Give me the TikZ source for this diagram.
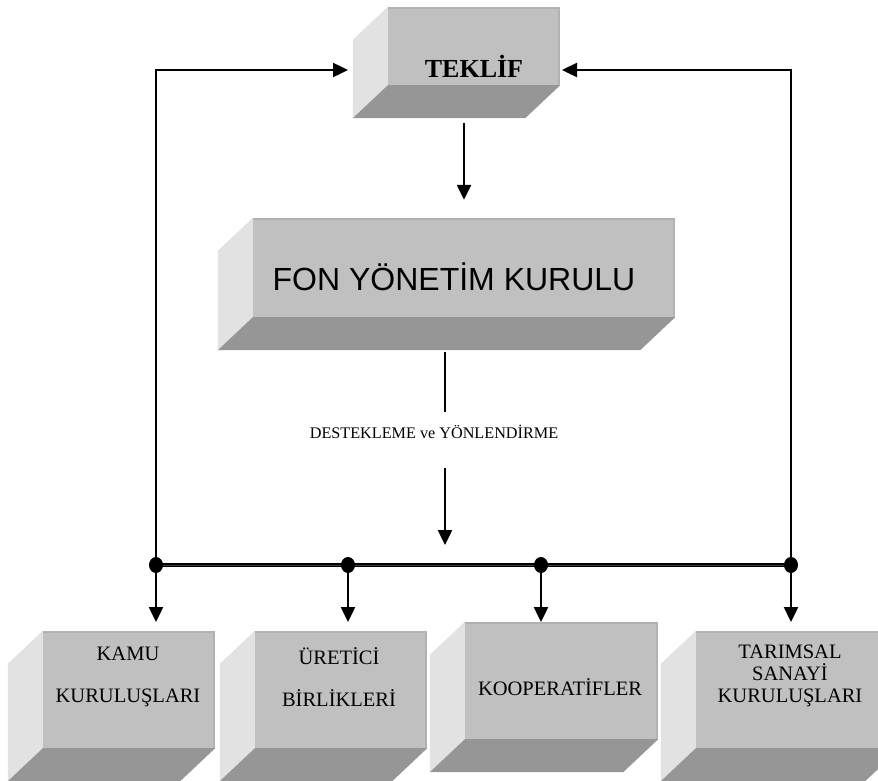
\documentclass[tikz,border=0pt]{standalone}
\usepackage{fontspec}
\setmainfont{Liberation Serif}
\setsansfont{Liberation Sans}
\usetikzlibrary{arrows.meta}
\usetikzlibrary{shapes.geometric}
\definecolor{onyuz}{HTML}{C0C0C0}
\definecolor{yanyuz}{HTML}{E2E2E2}
\definecolor{altyuz}{HTML}{969696}
\definecolor{kenar}{HTML}{B2B2B2}
\tikzset{kutu/.style = {fill=onyuz, inner sep=0pt},
         flow/.style = {line width=2.4pt, -{Triangle[length=15pt, width=14pt]}},
         hat/.style = {line width=1.2pt, double=darkgray, double distance=0.7pt},
         nokta/.style = {ellipse, fill=black, inner sep=0pt,
                         minimum width=14pt, minimum height=16pt},
         etiket/.style = {font=\fontsize{20.5}{22}\selectfont, align=center}}
% kutu: ad, merkez, genislik, yukseklik
\newcommand{\blok}[4]{%
  \node [kutu, minimum width=#3, minimum height=#4] (#1) at (#2) {};
  \draw [kenar, line width=2pt] ([yshift=-1pt]#1.north west) -- ([shift={(-1pt,-1pt)}]#1.north east)
        -- ([xshift=-1pt]#1.south east);
  \fill [yanyuz] (#1.north west) -- (#1.south west) -- ([shift={(-35pt,-33pt)}]#1.south west)
        -- ([shift={(-35pt,-33pt)}]#1.north west) -- cycle;
  \fill [altyuz] (#1.south west) -- (#1.south east) -- ([shift={(-35pt,-33pt)}]#1.south east)
        -- ([shift={(-35pt,-33pt)}]#1.south west) -- cycle;
}

\begin{document}
\begin{tikzpicture}[x=1pt, y=-1pt]
      \useasboundingbox (0, 0) rectangle (878, 780);
      \clip (0, 0) rectangle (878, 780);

      \blok{teklif}{474, 46}{172}{78}
      \blok{fon}{464, 267.5}{422}{99}
      \blok{kamu}{129, 689.5}{172}{117}
      \blok{uretici}{341, 689.5}{172}{117}
      \blok{koop}{561.5, 680.5}{193}{117}
      \blok{tarim}{798, 689.5}{204}{117}

      \node [font=\bfseries\fontsize{26}{28}\selectfont, anchor=base] (teklifyazi) at (474, 77) {TEKLİF};
      \node [font=\sffamily\fontsize{32}{34}\selectfont, anchor=base] (fonyazi) at (454, 290) {FON YÖNETİM KURULU};
      \node [font=\fontsize{16.2}{18}\selectfont, anchor=base] (destek) at (434, 438) {DESTEKLEME ve YÖNLENDİRME};
      \node [etiket] (kamuyazi) at (128, 677) {KAMU\\[20pt]KURULUŞLARI};
      \node [etiket] (ureticiyazi) at (339, 677) {ÜRETİCİ\\[20pt]BİRLİKLERİ};
      \node [etiket, anchor=base] (koopyazi) at (560, 695) {KOOPERATİFLER};
      \node [etiket] (tarimyazi) at (790, 676) {TARIMSAL\\SANAYİ\\KURULUŞLARI};

      \coordinate (n1) at (156, 565);
      \coordinate (n2) at (348, 565);
      \coordinate (n3) at (541, 565);
      \coordinate (n4) at (791, 565);
      \coordinate (solgiris) at (348, 70);
      \coordinate (saggiris) at (562, 70);
      \coordinate (eksen) at (445, 0);
      \coordinate (hiza) at (0, 622);

      \draw [flow] (teklif.south -| fon.north) ++(0, 38) -- ([yshift=18pt]fon.north);
      \draw [line width=1.3pt] (fon.south -| eksen) ++(0, 35) -- ++(0, 60);
      \draw [flow] (eksen |- n1) ++(0, -97) -- ++(0, 77);

      \draw [hat] (n1) -- (n4);
      \draw [flow] (n1) |- (solgiris);
      \draw [flow] (n4) |- (saggiris);
      \foreach \n in {n1, n2, n3, n4}
        \draw [flow] (\n) -- (\n |- hiza);

      \node [nokta] (nokta1) at (n1) {};
      \node [nokta] (nokta2) at (n2) {};
      \node [nokta] (nokta3) at (n3) {};
      \node [nokta] (nokta4) at (n4) {};
    \end{tikzpicture}
\end{document}
